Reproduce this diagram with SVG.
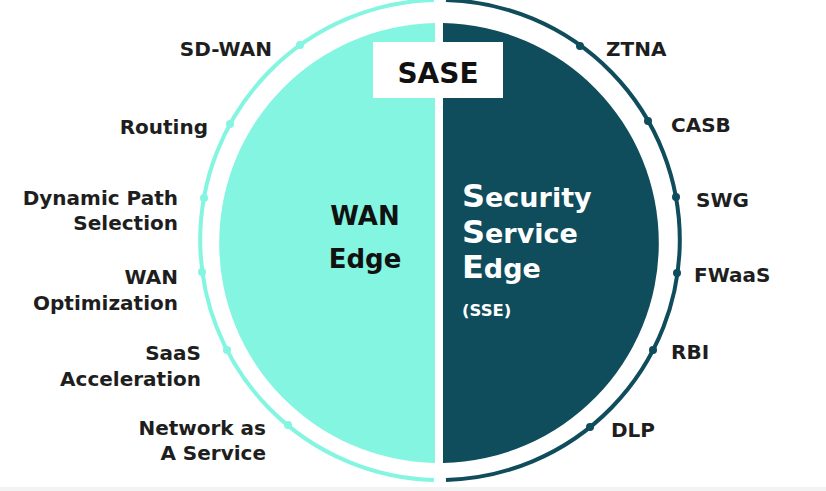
<svg xmlns="http://www.w3.org/2000/svg" width="826" height="491" viewBox="0 0 826 491">
<style>
.lbl{font-family:"DejaVu Sans","Liberation Sans",sans-serif;font-weight:700;font-size:20px;fill:#1e1e1e}
.l{text-anchor:end}
.r{text-anchor:start}
.teal{fill:#84f5e0}
.dark{fill:#0f4c5c}
.big{font-family:"DejaVu Sans","Liberation Sans",sans-serif;font-weight:700}
</style>
<rect x="0" y="0" width="826" height="491" fill="#ffffff"/>
<rect x="0" y="487" width="826" height="4" fill="#f3f3f3"/>
<g id="connectors">
<path d="M434,0.08 A240,240 0 0 0 434,479.92" fill="none" stroke="#84f5e0" stroke-width="4"/>
<path d="M446,0.08 A240,240 0 0 1 446,479.92" fill="none" stroke="#0f4c5c" stroke-width="4"/>
<g class="teal">
<circle cx="300" cy="45" r="4"/>
<circle cx="230" cy="124" r="4"/>
<circle cx="204" cy="198" r="4"/>
<circle cx="202" cy="272" r="4"/>
<circle cx="227" cy="350" r="4"/>
<circle cx="288" cy="425" r="4"/>
</g>
<g class="dark">
<circle cx="580" cy="46" r="4"/>
<circle cx="648" cy="121" r="4"/>
<circle cx="676" cy="197" r="4"/>
<circle cx="677" cy="273" r="4"/>
<circle cx="653" cy="350" r="4"/>
<circle cx="590" cy="427" r="4"/>
</g>
</g>
<g id="wan-edge">
<path class="teal" d="M435,23.04 A220,220 0 0 0 435,462.96 Z"/>
<text class="big" x="365" y="225" font-size="26" text-anchor="middle" fill="#111">WAN</text>
<text class="big" x="365" y="268" font-size="26" text-anchor="middle" fill="#111">Edge</text>
</g>
<g id="sse">
<path class="dark" d="M443,23.04 A220,220 0 0 1 443,462.96 Z"/>
<text class="big" x="462" y="207" font-size="27" fill="#fff"><tspan font-size="32">S</tspan>ecurity</text>
<text class="big" x="462" y="243" font-size="27" fill="#fff"><tspan font-size="32">S</tspan>ervice</text>
<text class="big" x="462" y="278" font-size="27" fill="#fff"><tspan font-size="32">E</tspan>dge</text>
<text class="big" x="462" y="316" font-size="16.5" fill="#fff">(SSE)</text>
</g>
<g id="sase">
<rect x="373" y="42" width="130" height="56" fill="#fff"/>
<text class="big" x="438" y="83" font-size="28" text-anchor="middle" fill="#111">SASE</text>
</g>
<g id="sd-wan"><text class="lbl l" x="272" y="56">SD-WAN</text></g>
<g id="routing"><text class="lbl l" x="208" y="134">Routing</text></g>
<g id="dps"><text class="lbl l" x="178" y="205">Dynamic Path</text><text class="lbl l" x="178" y="230">Selection</text></g>
<g id="wan-opt"><text class="lbl l" x="178" y="284">WAN</text><text class="lbl l" x="178" y="310">Optimization</text></g>
<g id="saas"><text class="lbl l" x="201" y="360">SaaS</text><text class="lbl l" x="201" y="386">Acceleration</text></g>
<g id="naas"><text class="lbl l" x="266" y="435">Network as</text><text class="lbl l" x="266" y="460">A Service</text></g>
<g id="ztna"><text class="lbl r" x="606" y="56">ZTNA</text></g>
<g id="casb"><text class="lbl r" x="671" y="132">CASB</text></g>
<g id="swg"><text class="lbl r" x="696" y="207">SWG</text></g>
<g id="fwaas"><text class="lbl r" x="694" y="282">FWaaS</text></g>
<g id="rbi"><text class="lbl r" x="671" y="359">RBI</text></g>
<g id="dlp"><text class="lbl r" x="611" y="437">DLP</text></g>
</svg>
